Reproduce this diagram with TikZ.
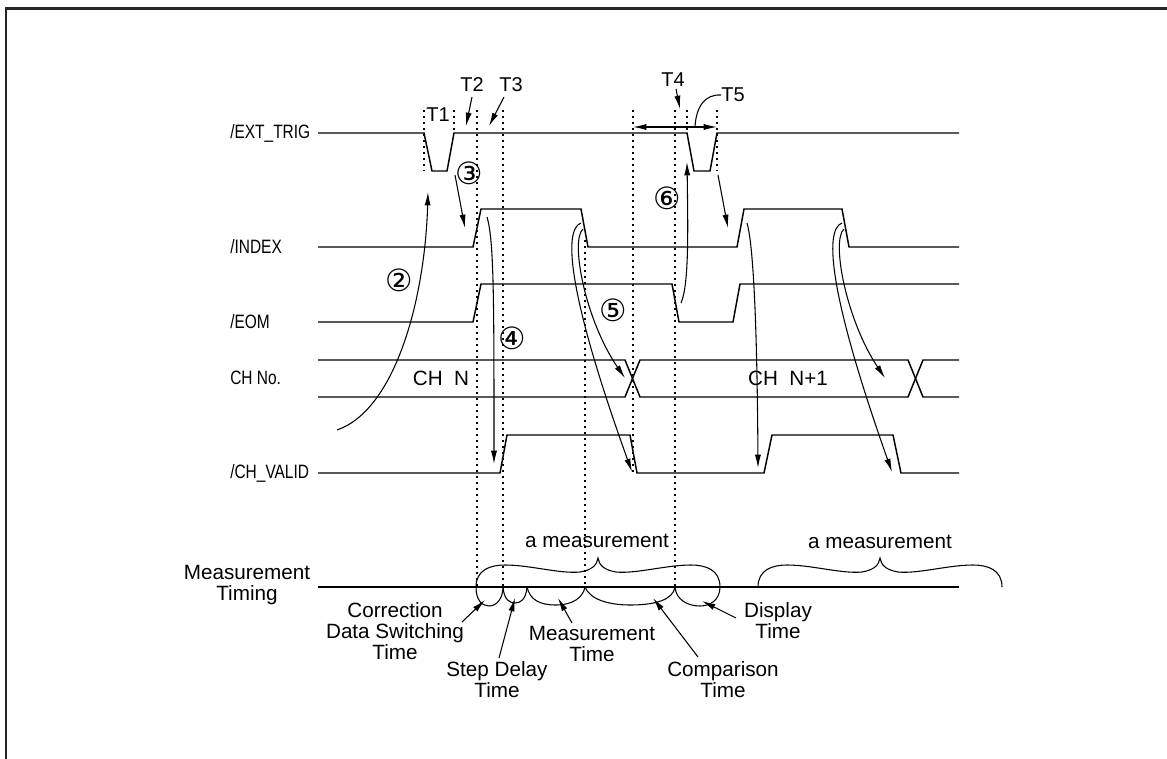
\documentclass[tikz,border=0pt]{standalone}
\usepackage{fontspec}
\setmainfont{Liberation Sans}
\newfontfamily\sigfont{Liberation Sans}[FakeStretch=0.8]
\newfontfamily\circfont{DejaVu Sans}
\usetikzlibrary{arrows.meta, positioning, calc}
\tikzset{
  % --- Tin hieu ---------------------------------------------
  wave/.style={line width=1.1pt, line join=miter},
  guide/.style={line width=1.1pt, dash pattern=on 1.3pt off 3.2pt},
  sigl/.style={anchor=west, inner sep=0pt,
    font=\sigfont\fontsize{14.5}{16}\selectfont},
  chl/.style={inner sep=0pt, font=\fontsize{15.5}{16}\selectfont},
  tlab/.style={inner sep=0pt, font=\fontsize{15}{16}\selectfont},
  numl/.style={inner sep=0pt, font=\circfont\fontsize{23}{23}\selectfont},
  % --- Mui ten ----------------------------------------------
  cause/.style={-{Latex[length=10pt, width=4.6pt]}, line width=0.8pt},
  span/.style={{Latex[length=10pt, width=4.6pt]}-{Latex[length=10pt, width=4.6pt]},
    line width=0.8pt},
  lead/.style={line width=0.8pt},
  % --- Thoi gian do -----------------------------------------
  phase/.style={line width=0.8pt},
  plab/.style={align=center, inner sep=0pt,
    font=\fontsize{15.5}{15.75}\selectfont},
  frame/.style={line width=1.8pt, black!85},
  mbrace/.pic={
    \draw[phase] (0,0) .. controls (0,-17) and (14,-22) .. (29,-22)
      .. controls (54,-22) and (84,-13) .. (104,-15)
      .. controls (116,-17) and (121,-22) .. (122,-29)
      .. controls (123,-22) and (128,-17) .. (140,-15)
      .. controls (160,-13) and (190,-22) .. (215,-22)
      .. controls (230,-22) and (244,-17) .. (244,0);
  }
}

\begin{document}
\begin{tikzpicture}[x=0.75pt, y=-0.75pt]
  \useasboundingbox (0,0) rectangle (1167,759);
  \draw[frame] (6,759) -- (6,8.7) -- (1167,8.7);

  % ---------- Ten tin hieu ----------
  \node[sigl] (nTrig)  at (230,133) {/EXT\_TRIG};
  \node[sigl] (nIndex) at (230,247) {/INDEX};
  \node[sigl] (nEom)   at (230,322) {/EOM};
  \node[sigl] (nCh)    at (230,378) {CH No.};
  \node[sigl] (nValid) at (230,473) {/CH\_VALID};
  \node[plab] (nMeas)  at (247,585) {Measurement\\Timing};

  % ---------- Dang song ----------
  \draw[wave] (318,133) -- (424,133) -- (432,171) -- (447,171) -- (454,133)
    -- (687,133) -- (694,171) -- (710,171) -- (717,133) -- (959,133);
  \draw[wave] (318,247) -- (473,247) -- (481,209) -- (581,209) -- (588,247)
    -- (737,247) -- (744,209) -- (842,209) -- (849,247) -- (959,247);
  \draw[wave] (318,322) -- (473,322) -- (481,284) -- (672,284) -- (679,322)
    -- (733,322) -- (740,284) -- (959,284);
  \draw[wave] (318,360) -- (625,360) -- (640,397) -- (908,397) -- (923,360) -- (959,360);
  \draw[wave] (318,397) -- (625,397) -- (640,360) -- (908,360) -- (923,397) -- (959,397);
  \draw[wave] (318,473) -- (500,473) -- (507,435) -- (630,435) -- (637,473)
    -- (764,473) -- (772,435) -- (893,435) -- (901,473) -- (959,473);
  \draw[wave] (318,587) -- (959,587);

  \node[chl] (chA) at (441,378) {CH\ \ N};
  \node[chl] (chB) at (788,378) {CH\ \ N+1};

  % ---------- Duong chia thoi gian ----------
  \foreach \gx/\gtop/\gbot in {424/110/171, 454/110/133, 477/110/587,
      503/110/587, 585/240/587, 633/110/473, 675/110/587, 687/110/133,
      717/110/171}
    \draw[guide] (\gx,\gtop) -- (\gx,\gbot);

  % ---------- T1 .. T5 ----------
  \node[tlab] (t1) at (438,115) {T1};
  \node[tlab] (t2) at (472,85) {T2};
  \node[tlab] (t3) at (511,85) {T3};
  \node[tlab] (t4) at (673,80) {T4};
  \node[tlab] (t5) at (733,95) {T5};
  \draw[cause] (472,97) -- (466,126);
  \draw[cause] (504,97) -- (489,126);
  \draw[cause] (676,89) -- (680,109);
  \draw[span] (633,127) -- (717,127);
  \draw[lead] (t5.west) .. controls (704,94) and (696,108) .. (695,127);

  % ---------- Quan he nhan qua ----------
  \node[numl] (c2) at (399,280) {②};
  \node[numl] (c3) at (469,173) {③};
  \node[numl] (c4) at (512,338) {④};
  \node[numl] (c5) at (613,310) {⑤};
  \node[numl] (c6) at (667,198) {⑥};

  \draw[cause] (337,430) .. controls (395,410) and (425,300) .. (428,192);
  \draw[cause] (455,175) -- (465,228);
  \draw[cause] (487,217) .. controls (494,240) and (494,300) .. (494,464);
  \draw[cause] (581,223) .. controls (562,230) and (570,300) .. (632,472);
  \draw[cause] (583,229) .. controls (570,240) and (585,320) .. (625,378);
  \draw[cause] (681,303) .. controls (689,285) and (688,230) .. (687,162);
  \draw[cause] (718,175) -- (728,228);
  \draw[cause] (747,223) .. controls (752,240) and (757,300) .. (758,468);
  \draw[cause] (842,223) .. controls (823,230) and (831,300) .. (892,472);
  \draw[cause] (844,229) .. controls (831,240) and (846,320) .. (885,378);

  % ---------- Thoi gian do ----------
  \pic at (476,587) {mbrace};
  \pic at (758,587) {mbrace};
  \node[plab] (m1) at (597,541) {a measurement};
  \node[plab] (m2) at (880,542) {a measurement};

  \draw[phase] (476,587) .. controls (476,600) and (482,606) .. (489,606)
    .. controls (497,606) and (503,598) .. (503,587);
  \draw[phase] (503,587) .. controls (504,600) and (510,603) .. (515,603)
    .. controls (520,603) and (526,600) .. (527,587);
  \draw[phase] (527,587) .. controls (530,600) and (540,605) .. (556,605)
    .. controls (572,605) and (583,598) .. (585,587);
  \draw[phase] (585,587) .. controls (590,600) and (610,605) .. (630,605)
    .. controls (655,605) and (673,600) .. (675,587);
  \draw[phase] (720,587) .. controls (720,600) and (710,606) .. (700,606)
    .. controls (688,606) and (676,600) .. (675,587);

  \node[plab] (pCorr) at (395,631) {Correction\\Data Switching\\Time};
  \node[plab] (pStep) at (497,680) {Step Delay\\Time};
  \node[plab] (pMeas) at (592,644) {Measurement\\Time};
  \node[plab] (pComp) at (723,680) {Comparison\\Time};
  \node[plab] (pDisp) at (778,621) {Display\\Time};
  \draw[cause] (462,622) -- (485,600);
  \draw[cause] (499,658) -- (515,598);
  \draw[cause] (572,623) -- (558,598);
  \draw[cause] (698,657) -- (653,598);
  \draw[cause] (736,618) -- (702,601);
\end{tikzpicture}
\end{document}
